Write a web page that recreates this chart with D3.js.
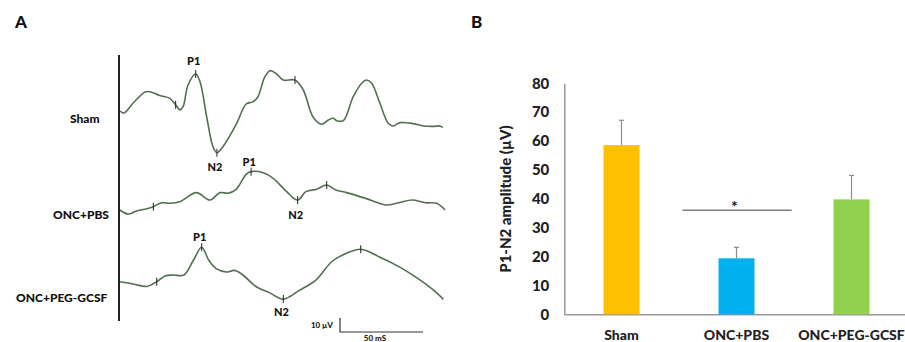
<!DOCTYPE html>
<html>
<head>
<meta charset="utf-8">
<script src="https://cdn.jsdelivr.net/npm/d3@7"></script>
<style>
  body { margin: 0; background: #fff; }
  svg { display: block; font-family: Lato, "Open Sans", sans-serif; }
</style>
</head>
<body>
<div id="chart"></div>
<script>
// ---- panel A : VEP traces (time in ms, amplitude in µV relative to each trace start) ----
const traceNames = ['Sham', 'ONC+PBS', 'ONC+PEG-GCSF'];

const shamTime = [0, 2.4, 7.8, 15.1, 18.1, 24, 30, 33.5, 36.1, 38.0, 41.0, 45.6, 48.2, 52.2, 56.0, 58.4, 62.0, 70.3, 76, 80, 83, 87.3, 90.4, 94.4, 98.4, 105.4, 110.4, 116.4, 121.5, 125.5, 128.5, 130.5, 134.5, 140.5, 145.6, 148.6, 151.6, 156.6, 161.6, 164.6, 168.7, 176.7, 182.7, 188.7, 192.8, 194.4];
const shamVolt = [0, -1.4, 5.5, 13.6, 13.8, 11, 9, 4.5, 0.8, 3.1, 18.6, 26.4, 20.9, -4.1, -25.5, -29.8, -25.5, -8.8, 5, 6.5, 10, 24.5, 28.8, 26.4, 22.1, 22.1, 15.0, -4.5, -9.5, -6.4, -5.2, -6.9, -6.9, 10.2, 19.8, 22.1, 19.8, 5.5, -8.8, -10.7, -8.3, -9.0, -10.7, -11.0, -10.7, -11.9];
const shamMarks = [33.5, 45.6, 58.4, 105.4];

const pbsTime = [0, 4.8, 10, 15, 20.1, 25, 30, 36, 46, 54.2, 60.2, 65, 70, 76, 79, 86.3, 92.3, 100.4, 107.0, 112, 118.5, 124.5, 130, 136.5, 148, 160, 168, 176, 184, 190.8, 195.8];
const pbsVolt = [0, -2.9, -0.7, 0.5, 2.4, 5.2, 4.8, 5.9, 12.4, 7.1, 12.4, 12.0, 14.8, 25.5, 27.4, 26.6, 22.6, 13.1, 7.1, 13.1, 14.8, 17.9, 14.3, 12.4, 8.3, 3.6, 5.2, 7.1, 5.2, 4.8, 0];
const pbsMarks = [20.1, 79, 107.0, 124.5];

const pegTime = [0, 8.0, 16.1, 22.1, 27.1, 32.1, 38.5, 44.2, 49.2, 53.5, 58, 64, 69, 74, 82.3, 90, 98.4, 108, 118, 128, 136.5, 145.0, 156, 168, 178, 188.7, 194.8];
const pegVolt = [0.2, -1.4, -3.2, 0.2, 4.3, 5.0, 5.0, 15.5, 24.8, 15.5, 9.5, 7.1, 8.3, 5.0, -3.6, -7.6, -12.2, -6.0, 1.4, 15.0, 20.5, 23.4, 18.1, 11.0, 3.6, -5.7, -12.4];
const pegMarks = [22.1, 49.2, 98.4, 145.0];

const peakNames = ['P1', 'N2'];
const scaleBarVolt = 10;   // µV
const scaleBarTime = 50;   // ms
const scaleBarLabels = ['10 µV', '50 mS'];

// ---- panel B : P1-N2 amplitude bars ----
const groups = ['Sham', 'ONC+PBS', 'ONC+PEG-GCSF'];
const amplitude = [58.6, 19.4, 39.8];
const amplitudeErr = [8.6, 3.8, 8.3];
const yTicks = [0, 10, 20, 30, 40, 50, 60, 70, 80];
const sigLevel = 36;
const sigLabel = '*';

const barColors = ['#FFC000', '#00B0F0', '#92D050'];
const traceColor = '#52704f';
const boldW = 900;

const W = 905, H = 342;
const svg = d3.select('#chart').append('svg')
  .attr('width', W)
  .attr('height', H);

// panel letters
svg.append('text').attr('x', 15).attr('y', 28).text('A')
  .style('font-size', '17px').style('font-weight', boldW).style('fill', '#111');
svg.append('text').attr('x', 471).attr('y', 28).text('B')
  .style('font-size', '17px').style('font-weight', boldW).style('fill', '#111');

// ===== panel A =====
const xT = d3.scaleLinear().domain([0, 50]).range([120, 203]);
const baselines = [111, 210, 282];
const traces = [
  { t: shamTime, v: shamVolt, marks: shamMarks, p1: 45.6, n2: 58.4, p1dy: -9, n2dy: 18 },
  { t: pbsTime, v: pbsVolt, marks: pbsMarks, p1: 79, n2: 107.0, p1dy: -6, n2dy: 19 },
  { t: pegTime, v: pegVolt, marks: pegMarks, p1: 49.2, n2: 98.4, p1dy: -6, n2dy: 17 }
];
const labelX = [70, 53, 16];
const labelY = [123, 219, 302];

svg.append('line')
  .attr('x1', 119).attr('x2', 119)
  .attr('y1', 55).attr('y2', 321)
  .attr('stroke', '#222').attr('stroke-width', 2);

traces.forEach((tr, i) => {
  const yV = d3.scaleLinear().domain([0, 10]).range([baselines[i], baselines[i] - 14]);
  const pts = tr.t.map((t, j) => [t, tr.v[j]]);
  const voltAt = (t) => {
    const j = d3.bisector(d => d[0]).left(pts, t);
    if (j <= 0) return pts[0][1];
    if (j >= pts.length) return pts[pts.length - 1][1];
    const a = pts[j - 1], b = pts[j];
    return a[1] + (b[1] - a[1]) * (t - a[0]) / (b[0] - a[0]);
  };

  svg.append('path')
    .datum(pts)
    .attr('fill', 'none')
    .attr('stroke', traceColor)
    .attr('stroke-width', 1.6)
    .attr('stroke-linejoin', 'round')
    .attr('d', d3.line()
      .curve(d3.curveCatmullRom.alpha(0.5))
      .x(d => xT(d[0]))
      .y(d => yV(d[1])));

  svg.selectAll(null)
    .data(tr.marks)
    .enter()
    .append('line')
    .attr('x1', d => xT(d)).attr('x2', d => xT(d))
    .attr('y1', d => yV(voltAt(d)) - 4)
    .attr('y2', d => yV(voltAt(d)) + 4)
    .attr('stroke', '#333')
    .attr('stroke-width', 1.1);

  svg.append('text')
    .attr('x', xT(tr.p1) - 2)
    .attr('y', yV(voltAt(tr.p1)) + tr.p1dy)
    .attr('text-anchor', 'middle')
    .style('font-size', '11px').style('font-weight', boldW).style('fill', '#111')
    .text(peakNames[0]);
  svg.append('text')
    .attr('x', xT(tr.n2) - 2)
    .attr('y', yV(voltAt(tr.n2)) + tr.n2dy)
    .attr('text-anchor', 'middle')
    .style('font-size', '11px').style('font-weight', boldW).style('fill', '#111')
    .text(peakNames[1]);

  svg.append('text')
    .attr('x', labelX[i])
    .attr('y', labelY[i])
    .style('font-size', '12px').style('font-weight', boldW).style('fill', '#111')
    .text(traceNames[i]);
});

// scale bar
const sbX = 340, sbY = 332;
const sbV = d3.scaleLinear().domain([0, 10]).range([sbY, sbY - 14]);
svg.append('path')
  .attr('fill', 'none')
  .attr('stroke', '#333')
  .attr('stroke-width', 1.2)
  .attr('d', `M${sbX},${sbV(scaleBarVolt)}V${sbY}H${sbX + xT(scaleBarTime) - xT(0)}`);
svg.append('text')
  .attr('x', sbX - 7).attr('y', 328)
  .attr('text-anchor', 'end')
  .style('font-size', '8px').style('font-weight', boldW).style('fill', '#222')
  .text(scaleBarLabels[0]);
svg.append('text')
  .attr('x', 375).attr('y', 341)
  .attr('text-anchor', 'middle')
  .style('font-size', '8px').style('font-weight', boldW).style('fill', '#222')
  .text(scaleBarLabels[1]);

// ===== panel B =====
const y = d3.scaleLinear().domain([0, 80]).range([314.3, 83.3]);
const x = d3.scaleBand().domain(groups).range([564, 909]).paddingInner(0.687).paddingOuter(0.3435);

const yAxisG = svg.append('g')
  .attr('transform', 'translate(564.3,0)')
  .call(d3.axisLeft(y).tickValues(yTicks).tickSize(0).tickSizeOuter(0).tickPadding(15));
yAxisG.select('.domain').attr('stroke', '#999').attr('stroke-width', 1.5);
yAxisG.selectAll('text')
  .style('font-family', 'Lato, sans-serif')
  .style('font-size', '15px').style('font-weight', boldW).style('fill', '#222');

const xAxisG = svg.append('g')
  .attr('transform', 'translate(0,314.3)')
  .call(d3.axisBottom(x).tickSize(0).tickSizeOuter(0).tickPadding(16));
xAxisG.select('.domain').attr('stroke', '#999').attr('stroke-width', 1.5);
xAxisG.selectAll('text')
  .style('font-family', 'Lato, sans-serif')
  .style('font-size', '14px').style('font-weight', boldW).style('fill', '#222');

svg.append('text')
  .attr('transform', 'translate(511,199) rotate(-90)')
  .attr('text-anchor', 'middle')
  .style('font-size', '15px').style('font-weight', boldW).style('fill', '#222')
  .text('P1-N2 amplitude (µV)');

// error bars
groups.forEach((g, i) => {
  const cx = x(g) + x.bandwidth() / 2;
  svg.append('line')
    .attr('x1', cx).attr('x2', cx)
    .attr('y1', y(amplitude[i])).attr('y2', y(amplitude[i] + amplitudeErr[i]))
    .attr('stroke', '#8c8c8c').attr('stroke-width', 1.2);
  svg.append('line')
    .attr('x1', cx - 2.5).attr('x2', cx + 2.5)
    .attr('y1', y(amplitude[i] + amplitudeErr[i])).attr('y2', y(amplitude[i] + amplitudeErr[i]))
    .attr('stroke', '#8c8c8c').attr('stroke-width', 1.2);
});

svg.selectAll('.bar')
  .data(groups)
  .enter()
  .append('rect')
  .attr('class', 'bar')
  .attr('x', d => x(d))
  .attr('width', x.bandwidth())
  .attr('y', (d, i) => y(amplitude[i]))
  .attr('height', (d, i) => y(0) - y(amplitude[i]))
  .attr('fill', (d, i) => barColors[i]);

// significance line
const sigCx = x(groups[1]) + x.bandwidth() / 2;
const step = x.step();
svg.append('line')
  .attr('x1', sigCx - 0.47 * step).attr('x2', sigCx + 0.48 * step)
  .attr('y1', y(sigLevel)).attr('y2', y(sigLevel))
  .attr('stroke', '#7f7f7f').attr('stroke-width', 1.5);
svg.append('text')
  .attr('x', sigCx - 2).attr('y', y(sigLevel) + 2)
  .attr('text-anchor', 'middle')
  .style('font-size', '15px').style('font-weight', boldW).style('fill', '#222')
  .text(sigLabel);
</script>
</body>
</html>
